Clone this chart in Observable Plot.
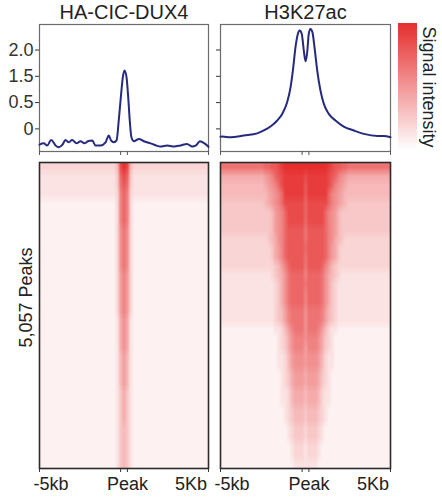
<!DOCTYPE html>
<html>
<head>
<meta charset="utf-8">
<script src="https://cdn.jsdelivr.net/npm/d3@7"></script>
<script src="https://cdn.jsdelivr.net/npm/@observablehq/plot@0.6"></script>
<style>
  html, body { margin: 0; padding: 0; background: #ffffff; }
  #chart { position: relative; width: 442px; height: 504px; overflow: hidden; background: #ffffff;
           font-family: "Liberation Sans", Arial, Helvetica, sans-serif; }
</style>
</head>
<body>
<div id="chart"></div>
<script>
// ---------------- data ----------------
const panels = ["HA-CIC-DUX4", "H3K27ac"];
const peakLabel = "5,057 Peaks";
const legendTitle = "Signal intensity";

const kbTicks = [-5, -0.2, 0.2, 5];
const xLabelValues = [-5, 0, 5];
const xLabels = ["-5kb", "Peak", "5Kb"];

const yTickValues = [0, 1, 2, 3];
const yTickLabels = ["0", "0.5", "1.5", "2.0"];

// profile of HA-CIC-DUX4 (position in kb, signal in axis units)
const leftKb = [-5.00, -4.75, -4.54, -4.31, -4.05, -3.86, -3.64, -3.46, -3.27, -3.07, -2.81, -2.57, -2.34, -2.14, -1.88,
  -1.69, -1.39, -1.09, -0.90, -0.77, -0.60, -0.44, -0.31, -0.17, -0.07, 0.03, 0.15, 0.25, 0.34, 0.44, 0.58, 0.88, 1.17,
  1.57, 1.86, 2.16, 2.56, 2.95, 3.34, 3.73, 4.04, 4.26, 4.49, 4.76, 5.00];
const leftSignal = [-0.60, -0.55, -0.63, -0.42, -0.63, -0.70, -0.60, -0.42, -0.51, -0.42, -0.55, -0.47, -0.55, -0.47, -0.44,
  -0.63, -0.63, -0.51, -0.25, -0.44, -0.51, -0.44, 0.32, 1.33, 1.96, 2.22, 1.96, 1.20, 0.32, -0.32, -0.47, -0.38, -0.47,
  -0.55, -0.62, -0.67, -0.63, -0.67, -0.63, -0.57, -0.67, -0.63, -0.47, -0.55, -0.68];

// profile of H3K27ac
const rightKb = [-5.00, -4.90, -4.41, -3.63, -2.84, -2.45, -2.06, -1.66, -1.37, -1.08, -0.88, -0.72, -0.59, -0.45, -0.34,
  -0.22, -0.10, 0.00, 0.10, 0.19, 0.29, 0.41, 0.53, 0.69, 0.88, 1.08, 1.37, 1.76, 2.25, 2.84, 3.43, 4.22, 4.61, 5.00];
const rightSignal = [-0.30, -0.29, -0.32, -0.25, -0.17, -0.06, 0.09, 0.32, 0.57, 1.01, 1.58, 2.34, 3.10, 3.61, 3.74,
  3.61, 2.98, 2.57, 2.91, 3.61, 3.80, 3.67, 3.10, 2.22, 1.46, 0.95, 0.57, 0.32, 0.09, -0.06, -0.19, -0.27, -0.27, -0.32];

// heatmaps: 34 row groups (top = strongest peaks) x 51 bins, intensity 0-f (hex)
const heatLeftRows = [
  "33333333333333333333333" + "5dfd5" + "33333333333333333333333",
  "22222222222222222222222" + "4bdb4" + "22222222222222222222222",
  "22222222222222222222222" + "4aca4" + "22222222222222222222222",
  "22222222222222222222222" + "39b93" + "22222222222222222222222",
  "11111111111111111111111" + "39b93" + "11111111111111111111111",
  "11111111111111111111111" + "39b93" + "11111111111111111111111",
  "11111111111111111111111" + "39b93" + "11111111111111111111111",
  "11111111111111111111111" + "38a83" + "11111111111111111111111",
  "11111111111111111111111" + "38a83" + "11111111111111111111111",
  "11111111111111111111111" + "38a83" + "11111111111111111111111",
  "11111111111111111111111" + "38a83" + "11111111111111111111111",
  "11111111111111111111111" + "38a83" + "11111111111111111111111",
  "11111111111111111111111" + "37973" + "11111111111111111111111",
  "11111111111111111111111" + "37973" + "11111111111111111111111",
  "11111111111111111111111" + "37973" + "11111111111111111111111",
  "11111111111111111111111" + "37973" + "11111111111111111111111",
  "11111111111111111111111" + "37973" + "11111111111111111111111",
  "11111111111111111111111" + "26862" + "11111111111111111111111",
  "11111111111111111111111" + "26862" + "11111111111111111111111",
  "11111111111111111111111" + "26862" + "11111111111111111111111",
  "11111111111111111111111" + "26862" + "11111111111111111111111",
  "11111111111111111111111" + "25752" + "11111111111111111111111",
  "11111111111111111111111" + "25752" + "11111111111111111111111",
  "11111111111111111111111" + "25752" + "11111111111111111111111",
  "11111111111111111111111" + "25752" + "11111111111111111111111",
  "11111111111111111111111" + "24642" + "11111111111111111111111",
  "11111111111111111111111" + "24642" + "11111111111111111111111",
  "11111111111111111111111" + "24642" + "11111111111111111111111",
  "11111111111111111111111" + "24642" + "11111111111111111111111",
  "11111111111111111111111" + "24542" + "11111111111111111111111",
  "11111111111111111111111" + "24542" + "11111111111111111111111",
  "11111111111111111111111" + "24542" + "11111111111111111111111",
  "11111111111111111111111" + "24542" + "11111111111111111111111",
  "11111111111111111111111" + "24542" + "11111111111111111111111"
];

const heatRightRows = [
  "aaaaaaaaaaaaa" + "bbccd" + "efffffffffffffe" + "dccbb" + "aaaaaaaaaaaaa",
  "6666666666666" + "789bc" + "deeeeeedeeeeeed" + "cb987" + "6666666666666",
  "5555555555555" + "6789b" + "deeeeeeceeeeeed" + "b9876" + "5555555555555",
  "5555555555555" + "56789b" + "eeeeeeceeeeee" + "b98765" + "5555555555555",
  "4444444444444" + "56789b" + "ddddddbdddddd" + "b98765" + "4444444444444",
  "44444444444444" + "45789b" + "dddddbddddd" + "b98754" + "44444444444444",
  "44444444444444" + "45789b" + "dddddbddddd" + "b98754" + "44444444444444",
  "44444444444444" + "45789b" + "cccccaccccc" + "b98754" + "44444444444444",
  "33333333333333" + "45689b" + "cccccaccccc" + "b98654" + "33333333333333",
  "33333333333333" + "34679b" + "cccccbccccc" + "b97643" + "33333333333333",
  "33333333333333" + "34679b" + "cccccaccccc" + "b97643" + "33333333333333",
  "333333333333333" + "34579b" + "ccccacccc" + "b97543" + "333333333333333",
  "222222222222222" + "34568a" + "bbbb9bbbb" + "a86543" + "222222222222222",
  "222222222222222" + "23468a" + "bbbbabbbb" + "a86432" + "222222222222222",
  "222222222222222" + "23468a" + "bbbb9bbbb" + "a86432" + "222222222222222",
  "222222222222222" + "23468a" + "bbbb9bbbb" + "a86432" + "222222222222222",
  "222222222222222" + "234579" + "aaaa8aaaa" + "975432" + "222222222222222",
  "222222222222222" + "234579" + "aaaa8aaaa" + "975432" + "222222222222222",
  "1111111111111111" + "223579" + "aaa8aaa" + "975322" + "1111111111111111",
  "1111111111111111" + "123468" + "9998999" + "864321" + "1111111111111111",
  "1111111111111111" + "123468" + "9997999" + "864321" + "1111111111111111",
  "1111111111111111" + "122357" + "8887888" + "753221" + "1111111111111111",
  "1111111111111111" + "122357" + "8887888" + "753221" + "1111111111111111",
  "1111111111111111" + "112346" + "7776777" + "643211" + "1111111111111111",
  "1111111111111111" + "112346" + "7776777" + "643211" + "1111111111111111",
  "1111111111111111" + "112235" + "6665666" + "532211" + "1111111111111111",
  "1111111111111111" + "112235" + "6665666" + "532211" + "1111111111111111",
  "1111111111111111" + "111234" + "5554555" + "432111" + "1111111111111111",
  "1111111111111111" + "111234" + "5554555" + "432111" + "1111111111111111",
  "1111111111111111" + "111123" + "4443444" + "321111" + "1111111111111111",
  "1111111111111111" + "111123" + "4443444" + "321111" + "1111111111111111",
  "1111111111111111" + "111112" + "3332333" + "211111" + "1111111111111111",
  "1111111111111111" + "111112" + "3332333" + "211111" + "1111111111111111",
  "1111111111111111" + "111111" + "2222222" + "111111" + "1111111111111111"
];

// ---------------- checks ----------------
const nCols = 51;
[heatLeftRows, heatRightRows].forEach((rows, p) => rows.forEach((r, i) => {
  if (r.length !== nCols) throw new Error(`heat panel ${p} row ${i} has ${r.length} chars`);
}));
if (leftKb.length !== leftSignal.length) throw new Error("left profile length mismatch");
if (rightKb.length !== rightSignal.length) throw new Error("right profile length mismatch");

// ---------------- helpers ----------------
const chart = document.getElementById("chart");
const baseStyle = {
  background: "transparent",
  fontFamily: '"Liberation Sans", Arial, Helvetica, sans-serif',
  fontSize: "18px",
  color: "#222",
  overflow: "visible"
};
const colorScale = {type: "linear", domain: [0, 15], range: ["#ffffff", "#e62e2e"], interpolate: "rgb"};

function place(el, left, top) {
  el.style.position = "absolute";
  el.style.left = left + "px";
  el.style.top = top + "px";
  el.style.maxWidth = "none";
  chart.appendChild(el);
}

function profilePlot(i, kb, sig, box) {
  const data = kb.map((k, j) => ({kb: k, v: sig[j]}));
  return Plot.plot({
    width: box.width, height: box.height,
    marginTop: box.mt, marginRight: box.mr, marginBottom: box.mb, marginLeft: box.ml,
    style: baseStyle,
    x: {domain: [-5, 5], label: null, axis: null},
    y: {domain: [-0.86, 3.97], label: null, axis: null},
    marks: [
      Plot.frame({stroke: "#6b6b6b", strokeWidth: 1.2}),
      Plot.axisX(kbTicks, {anchor: "bottom", tickSize: 4, tickFormat: () => "", label: null, color: "#555"}),
      Plot.axisY(yTickValues, {
        anchor: "left", tickSize: 4, tickPadding: 2, label: null, color: "#333", fontSize: 18,
        tickFormat: i === 0 ? (d) => yTickLabels[yTickValues.indexOf(d)] : () => ""
      }),
      Plot.line(data, {x: "kb", y: "v", stroke: "#262a7e", strokeWidth: 2, curve: "monotone-x"}),
      Plot.text([panels[i]], {frameAnchor: "top", lineAnchor: "middle", textAnchor: "middle",
                              dy: -12, fontSize: 20, fill: "#222"})
    ]
  });
}

function heatPlot(i, rows, box) {
  const nRows = rows.length;
  const binW = 10 / nCols;
  const cells = [];
  rows.forEach((row, r) => {
    for (let c = 0; c < nCols; ++c) {
      cells.push({x: -5 + (c + 0.5) * binW, x1: -5 + c * binW, x2: -5 + (c + 1) * binW,
                  y: r + 0.5, y1: r, y2: r + 1, v: parseInt(row[c], 16)});
    }
  });
  const heatMark = (typeof Plot.raster === "function")
    ? Plot.raster(cells, {x: "x", y: "y", fill: "v", width: nCols, height: nRows, imageRendering: "auto"})
    : Plot.rect(cells, {x1: "x1", x2: "x2", y1: "y1", y2: "y2", fill: "v"});
  const anchors = ["start", "middle", "end"];
  const dxs = [-6, 3.5, -1.5];
  const marks = [
    heatMark,
    Plot.frame({stroke: "#2b2b2b", strokeWidth: 1.6}),
    Plot.axisX(kbTicks, {anchor: "bottom", tickSize: 4, tickFormat: () => "", label: null, color: "#333"}),
    ...xLabelValues.map((v, j) => Plot.text([v], {
      x: (d) => d, text: () => xLabels[j], frameAnchor: "bottom", lineAnchor: "top",
      dy: 8.5, dx: dxs[j], textAnchor: anchors[j], fontSize: 18, fill: "#222"
    }))
  ];
  if (i === 0) {
    marks.push(Plot.text([peakLabel], {frameAnchor: "left", rotate: -90, textAnchor: "middle", lineAnchor: "middle",
                                       dx: -13, dy: -18, fontSize: 18, fill: "#222"}));
  }
  return Plot.plot({
    width: box.width, height: box.height,
    marginTop: box.mt, marginRight: box.mr, marginBottom: box.mb, marginLeft: box.ml,
    style: baseStyle,
    x: {domain: [-5, 5], label: null, axis: null},
    y: {domain: [0, nRows], reverse: true, label: null, axis: null},
    color: colorScale,
    marks
  });
}

function legendPlot(box) {
  const steps = d3.range(0, 15, 0.25);
  return Plot.plot({
    width: box.width, height: box.height,
    marginTop: box.mt, marginRight: box.mr, marginBottom: box.mb, marginLeft: box.ml,
    style: baseStyle,
    x: {domain: [0, 1], label: null, axis: null},
    y: {domain: [0, 15], label: null, axis: null},
    color: colorScale,
    marks: [
      Plot.rect(steps, {x1: 0, x2: 1, y1: (d) => d, y2: (d) => Math.min(15, d + 0.35), fill: (d) => d + 0.125}),
      Plot.text([legendTitle], {frameAnchor: "right", rotate: 90, textAnchor: "middle", lineAnchor: "middle",
                                dx: 11, fontSize: 18, fill: "#222"})
    ]
  });
}

// ---------------- layout ----------------
place(profilePlot(0, leftKb, leftSignal, {width: 214, height: 158, mt: 24, mr: 6, mb: 7, ml: 39}), 0, 0);
place(profilePlot(1, rightKb, rightSignal, {width: 178, height: 158, mt: 24, mr: 2, mb: 7, ml: 6}), 214, 0);
place(legendPlot({width: 50, height: 158, mt: 23, mr: 25, mb: 8, ml: 6}), 392, 0);
place(heatPlot(0, heatLeftRows, {width: 214, height: 346, mt: 4, mr: 6, mb: 36, ml: 39}), 0, 158);
place(heatPlot(1, heatRightRows, {width: 228, height: 346, mt: 4, mr: 52, mb: 36, ml: 6}), 214, 158);
</script>
</body>
</html>
